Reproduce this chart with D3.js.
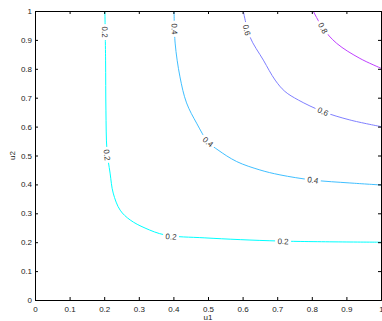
<!DOCTYPE html>
<html>
<head>
<meta charset="utf-8">
<script src="https://cdn.jsdelivr.net/npm/d3@7/dist/d3.min.js"></script>
<style>
  body { margin: 0; background: #fff; }
  text { font-family: "Liberation Sans", Arial, sans-serif; }
</style>
</head>
<body>
<div id="chart"></div>
<script>
// contour levels and colours (cool colormap)
const levels = [0.2, 0.4, 0.6, 0.8];
const levelColors = ["#00ffff", "#40bfff", "#8080ff", "#bf40ff"];

// contour lines, [u1, u2]
const contour02 = [
  [0.202, 1.0], [0.204, 0.83], [0.205, 0.657], [0.208, 0.519], [0.217, 0.439],
  [0.226, 0.37], [0.246, 0.311], [0.275, 0.277], [0.318, 0.249], [0.376, 0.225],
  [0.491, 0.215], [0.708, 0.204], [1.0, 0.2]
];
const contour04 = [
  [0.402, 1.0], [0.405, 0.889], [0.419, 0.772], [0.438, 0.682], [0.467, 0.612],
  [0.5, 0.547], [0.529, 0.519], [0.583, 0.479], [0.65, 0.45], [0.708, 0.433],
  [0.803, 0.415], [0.91, 0.405], [1.0, 0.398]
];
const contour06 = [
  [0.602, 1.0], [0.621, 0.911], [0.66, 0.83], [0.694, 0.761], [0.722, 0.722],
  [0.761, 0.692], [0.832, 0.652], [0.91, 0.623], [1.0, 0.6]
];
const contour08 = [
  [0.804, 1.0], [0.832, 0.941], [0.872, 0.888], [0.939, 0.836], [1.0, 0.802]
];
const contours = [contour02, contour04, contour06, contour08];

// inline labels: [level index, u1, u2]
const labelSpots = [
  [0, 0.202, 0.927], [0, 0.208, 0.502], [0, 0.393, 0.219], [0, 0.717, 0.203],
  [1, 0.403, 0.938], [1, 0.5, 0.547], [1, 0.803, 0.415],
  [2, 0.612, 0.934], [2, 0.832, 0.652],
  [3, 0.832, 0.941]
];

const tickValues = [0, 0.1, 0.2, 0.3, 0.4, 0.5, 0.6, 0.7, 0.8, 0.9, 1];
const tickLabels = ["0", "0.1", "0.2", "0.3", "0.4", "0.5", "0.6", "0.7", "0.8", "0.9", "1"];

let width = 382;
let height = 321;
let margin = { top: 11, right: 1, bottom: 21, left: 35 };
let plotWidth = width - margin.left - margin.right;
let plotHeight = height - margin.top - margin.bottom;

let svg = d3.select("#chart").append("svg")
  .attr("width", width)
  .attr("height", height);

let plot = svg.append("g")
  .attr("transform", `translate(${margin.left},${margin.top})`);

let x = d3.scaleLinear().domain([0, 1]).range([0, plotWidth]);
let y = d3.scaleLinear().domain([0, 1]).range([plotHeight, 0]);

svg.append("clipPath").attr("id", "clip")
  .append("rect").attr("width", plotWidth).attr("height", plotHeight);

let line = d3.line()
  .x(d => x(d[0]))
  .y(d => y(d[1]))
  .curve(d3.curveCatmullRom.alpha(0.5));

let lines = plot.append("g").attr("clip-path", "url(#clip)");
contours.forEach((c, i) => {
  lines.append("path")
    .datum(c)
    .attr("d", line)
    .attr("fill", "none")
    .attr("stroke", levelColors[i])
    .attr("stroke-width", 1);
});

// labels with a white patch that breaks the line
let labels = plot.append("g");
labelSpots.forEach(([li, u1, u2]) => {
  let pts = contours[li].map(d => [x(d[0]), y(d[1])]);
  let px = x(u1), py = y(u2);
  // nearest segment gives the angle
  let best = 0, bestD = Infinity;
  for (let k = 0; k < pts.length - 1; k++) {
    let mx = (pts[k][0] + pts[k + 1][0]) / 2, my = (pts[k][1] + pts[k + 1][1]) / 2;
    let dd = (mx - px) ** 2 + (my - py) ** 2;
    if (dd < bestD) { bestD = dd; best = k; }
  }
  let a = Math.atan2(pts[best + 1][1] - pts[best][1], pts[best + 1][0] - pts[best][0]) * 180 / Math.PI;
  if (a > 90) a -= 180;
  if (a <= -90) a += 180;
  let g = labels.append("g").attr("transform", `translate(${px},${py}) rotate(${a})`);
  g.append("rect").attr("x", -8).attr("y", -4).attr("width", 16).attr("height", 8).attr("fill", "#fff");
  g.append("text")
    .attr("text-anchor", "middle")
    .attr("dy", "0.35em")
    .attr("font-size", 8)
    .attr("fill", "#333")
    .text(levels[li].toFixed(1));
});

// axes, ticks inside on all four sides
let fmt = (d, i) => tickLabels[i];
let xAxis = d3.axisBottom(x).tickValues(tickValues).tickFormat(fmt).tickSize(-3).tickPadding(6);
let yAxis = d3.axisLeft(y).tickValues(tickValues).tickFormat(fmt).tickSize(-3).tickPadding(3);
let xTop = d3.axisTop(x).tickValues(tickValues).tickFormat("").tickSize(-3);
let yRight = d3.axisRight(y).tickValues(tickValues).tickFormat("").tickSize(-3);

let ax = [
  plot.append("g").attr("transform", `translate(0,${plotHeight})`).call(xAxis),
  plot.append("g").call(yAxis),
  plot.append("g").call(xTop),
  plot.append("g").attr("transform", `translate(${plotWidth},0)`).call(yRight)
];
ax.forEach(g => {
  g.selectAll("path.domain").attr("stroke", "#000").attr("stroke-width", 1);
  g.selectAll(".tick line").attr("stroke", "#000");
  g.selectAll("text").attr("font-size", 8).attr("fill", "#222")
    .attr("font-family", "'Liberation Sans', Arial, sans-serif");
});

svg.append("text")
  .attr("x", margin.left + plotWidth / 2)
  .attr("y", 317)
  .attr("dy", "0.35em")
  .attr("text-anchor", "middle")
  .attr("font-size", 8)
  .attr("fill", "#222")
  .text("u1");

svg.append("text")
  .attr("transform", `translate(12.5,${margin.top + plotHeight / 2}) rotate(-90)`)
  .attr("dy", "0.35em")
  .attr("text-anchor", "middle")
  .attr("font-size", 8)
  .attr("fill", "#222")
  .text("u2");
</script>
</body>
</html>
